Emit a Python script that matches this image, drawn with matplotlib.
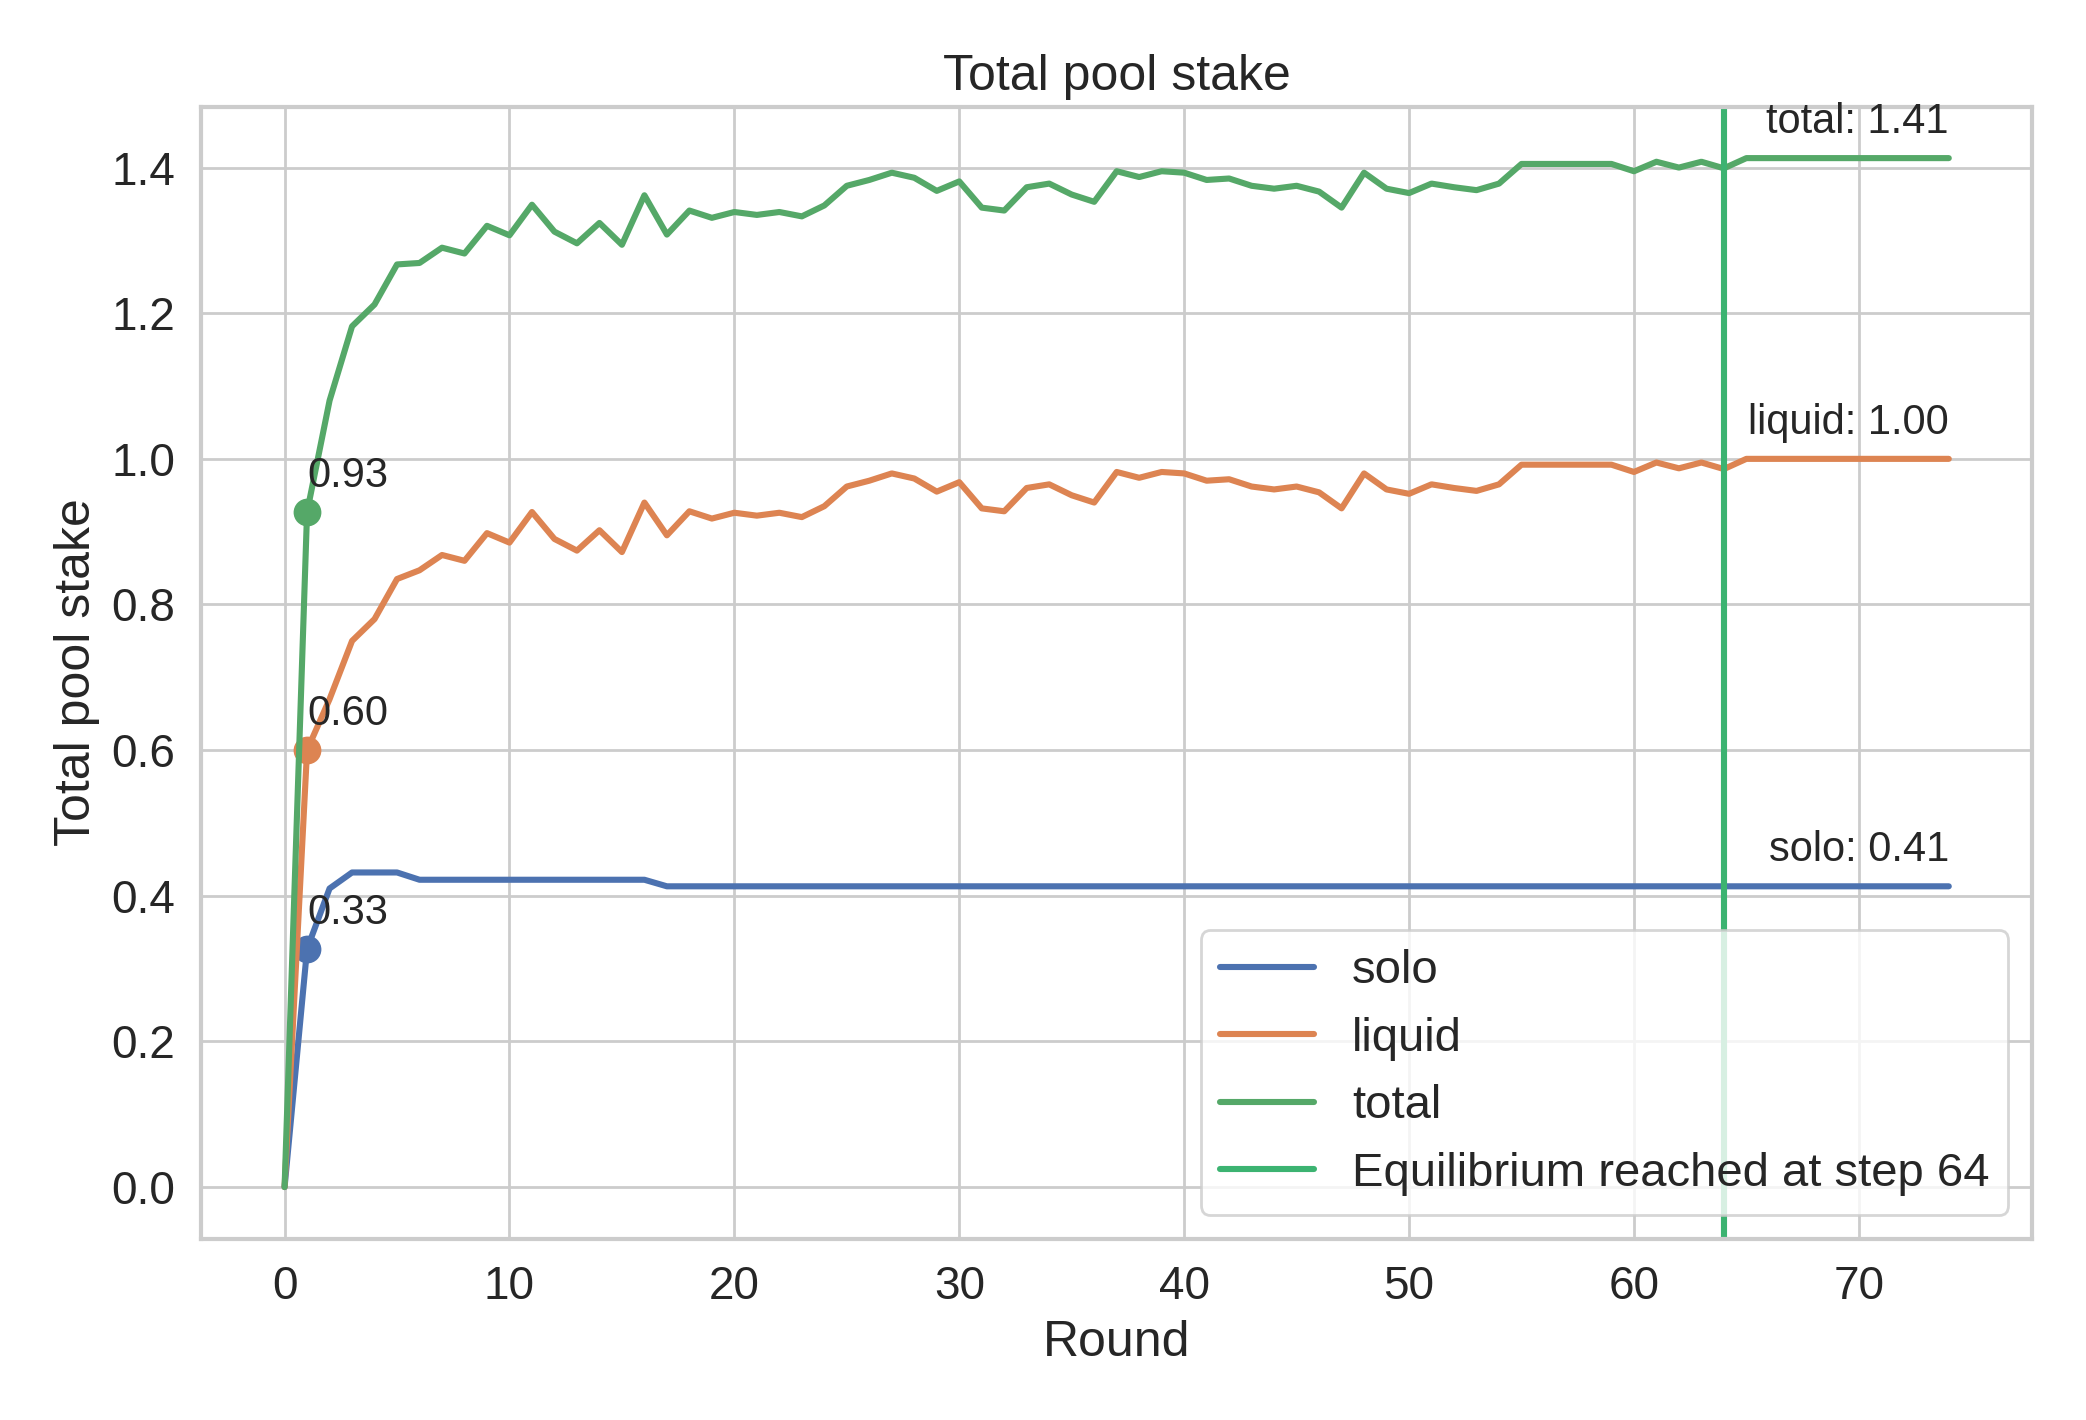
import numpy as np
import matplotlib
matplotlib.use("Agg")
import matplotlib.pyplot as plt
import seaborn as sns

rounds = np.arange(75)
solo = [0.0, 0.327, 0.41, 0.432, 0.432, 0.432] + [0.422] * 11 + [0.413] * 58
liquid = [0.0, 0.60, 0.67, 0.75, 0.78, 0.835, 0.847, 0.868, 0.86, 0.898,
          0.885, 0.927, 0.89, 0.874, 0.902, 0.872, 0.94, 0.895, 0.928, 0.918,
          0.926, 0.922, 0.926, 0.92, 0.935, 0.962, 0.97, 0.98, 0.973, 0.955,
          0.968, 0.932, 0.928, 0.96, 0.965, 0.95, 0.94, 0.982, 0.974, 0.982,
          0.98, 0.97, 0.972, 0.962, 0.958, 0.962, 0.954, 0.932, 0.98, 0.958,
          0.952, 0.965, 0.96, 0.956, 0.965, 0.992, 0.992, 0.992, 0.992, 0.992,
          0.982, 0.995, 0.987, 0.995, 0.986] + [1.0] * 10
total = (np.array(solo) + np.array(liquid)).tolist()
equilibrium_step = 64

sns.set_theme(style="whitegrid", font_scale=1.5)
plt.rcParams['font.family'] = ['Arial', 'Liberation Sans', 'DejaVu Sans']

fig, ax = plt.subplots(figsize=(10.43, 7.1), dpi=200)
series = [("solo", solo), ("liquid", liquid), ("total", total)]
colors = sns.color_palette()
for (name, vals), c in zip(series, colors):
    ax.plot(rounds, vals, color=c, lw=2.2, label=name)
    ax.plot(rounds[1], vals[1], 'o', color=c, ms=9)
    ax.annotate(f"{vals[1]:.2f}", (rounds[1], vals[1]), xytext=(0, 9),
                textcoords="offset points", fontsize=15)
    ax.annotate(f"{name}: {vals[-1]:.2f}", (rounds[-1], vals[-1]), xytext=(0, 9),
                textcoords="offset points", fontsize=15, ha="right")
ax.axvline(equilibrium_step, color="mediumseagreen", lw=2.2,
           label=f"Equilibrium reached at step {equilibrium_step}")
ax.set_title("Total pool stake")
ax.set_xlabel("Round")
ax.set_ylabel("Total pool stake")
for s in ax.spines.values():
    s.set_color("#cccccc")
    s.set_linewidth(1.5)
ax.legend(loc="lower right", fontsize=17)
plt.tight_layout()
plt.savefig("out.png", dpi=200)
